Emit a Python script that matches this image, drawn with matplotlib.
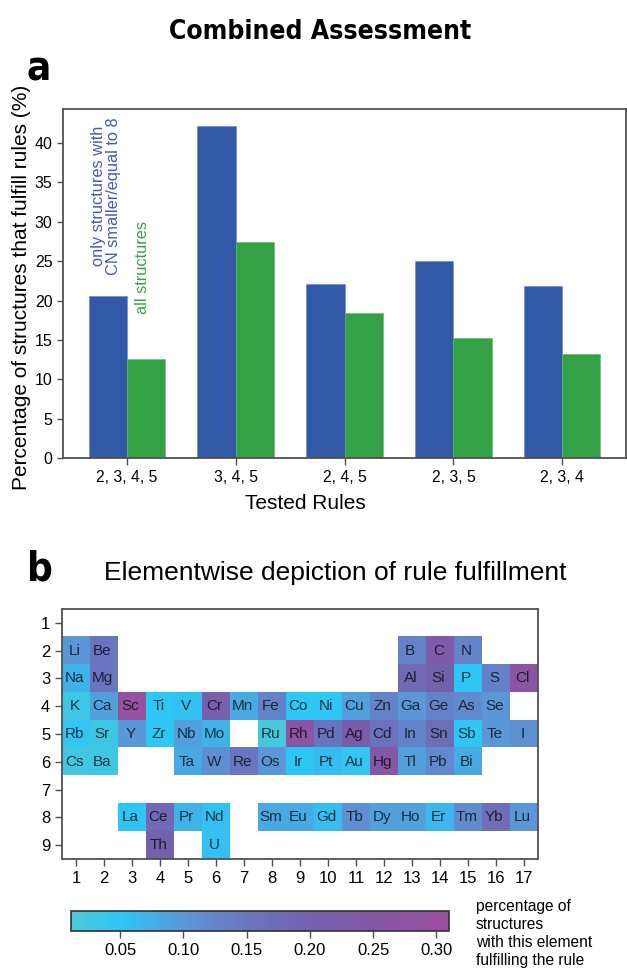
import numpy as np
import matplotlib
matplotlib.use("Agg")
import matplotlib.pyplot as plt
from matplotlib.colors import LinearSegmentedColormap, Normalize
from matplotlib import font_manager
import matplotlib.cm as cm

plt.rcParams['font.family'] = ['Liberation Sans', 'DejaVu Sans']

# ---------------- data ----------------
rule_sets = ["2, 3, 4, 5", "3, 4, 5", "2, 4, 5", "2, 3, 5", "2, 3, 4"]
cn_le_8 = [20.6, 42.2, 22.05, 25.05, 21.85]
all_structs = [12.55, 27.4, 18.45, 15.2, 13.25]

symbols = ["Li", "Be", "B", "C", "N",
           "Na", "Mg", "Al", "Si", "P", "S", "Cl",
           "K", "Ca", "Sc", "Ti", "V", "Cr", "Mn", "Fe", "Co", "Ni", "Cu", "Zn", "Ga", "Ge", "As", "Se",
           "Rb", "Sr", "Y", "Zr", "Nb", "Mo", "Ru", "Rh", "Pd", "Ag", "Cd", "In", "Sn", "Sb", "Te", "I",
           "Cs", "Ba", "Ta", "W", "Re", "Os", "Ir", "Pt", "Au", "Hg", "Tl", "Pb", "Bi",
           "La", "Ce", "Pr", "Nd", "Sm", "Eu", "Gd", "Tb", "Dy", "Ho", "Er", "Tm", "Yb", "Lu",
           "Th", "U"]
groups = [1, 2, 13, 14, 15,
          1, 2, 13, 14, 15, 16, 17,
          1, 2, 3, 4, 5, 6, 7, 8, 9, 10, 11, 12, 13, 14, 15, 16,
          1, 2, 3, 4, 5, 6, 8, 9, 10, 11, 12, 13, 14, 15, 16, 17,
          1, 2, 5, 6, 7, 8, 9, 10, 11, 12, 13, 14, 15,
          3, 4, 5, 6, 8, 9, 10, 11, 12, 13, 14, 15, 16, 17,
          4, 6]
periods = [2, 2, 2, 2, 2,
           3, 3, 3, 3, 3, 3, 3,
           4, 4, 4, 4, 4, 4, 4, 4, 4, 4, 4, 4, 4, 4, 4, 4,
           5, 5, 5, 5, 5, 5, 5, 5, 5, 5, 5, 5, 5, 5, 5, 5,
           6, 6, 6, 6, 6, 6, 6, 6, 6, 6, 6, 6, 6,
           8, 8, 8, 8, 8, 8, 8, 8, 8, 8, 8, 8, 8, 8,
           9, 9]
fractions = [0.10, 0.15, 0.13, 0.23, 0.13,
             0.07, 0.15, 0.18, 0.20, 0.05, 0.13, 0.27,
             0.03, 0.09, 0.29, 0.05, 0.055, 0.21, 0.08, 0.13, 0.05, 0.05, 0.09, 0.13, 0.10, 0.13, 0.12, 0.10,
             0.045, 0.03, 0.10, 0.05, 0.09, 0.07, 0.02, 0.27, 0.15, 0.22, 0.16, 0.13, 0.17, 0.05, 0.10, 0.11,
             0.025, 0.03, 0.08, 0.11, 0.15, 0.10, 0.05, 0.06, 0.045, 0.25, 0.09, 0.12, 0.08,
             0.05, 0.18, 0.07, 0.055, 0.08, 0.08, 0.06, 0.11, 0.09, 0.09, 0.065, 0.115, 0.17, 0.10,
             0.20, 0.055]

cbar_ticks = [0.05, 0.10, 0.15, 0.20, 0.25, 0.30]
vmin, vmax = 0.011, 0.31

# condensed bold font for headings, if one is installed
_fonts = font_manager.fontManager.ttflist
_names = {f.name for f in _fonts}
if 'Liberation Sans Narrow' in _names:
    head_kw = dict(family=['Liberation Sans Narrow', 'DejaVu Sans'])
    title_size = 22
elif any(f.name == 'DejaVu Sans' and str(f.stretch) in ('condensed', 'semi-condensed', '87.5', '75')
         for f in _fonts):
    head_kw = dict(family=['DejaVu Sans'], fontstretch='condensed')
    title_size = 19
else:
    head_kw = dict(family=['Roboto', 'Liberation Sans', 'DejaVu Sans'])
    title_size = 19

# ---------------- figure ----------------
fig = plt.figure(figsize=(6.27, 9.69), dpi=100)

blue = '#3258a8'
green = '#34a147'
spine_col = '#505050'

# Panel a
ax = fig.add_axes([0.1005, 0.5273, 0.8979, 0.3602])
x = np.arange(len(rule_sets))
w = 0.35
ax.bar(x - w / 2, cn_le_8, w, color=blue, edgecolor='#6a80cc', linewidth=0.4)
ax.bar(x + w / 2, all_structs, w, color=green, edgecolor='#5cb86a', linewidth=0.4)
ax.set_xticks(x)
ax.set_xticklabels(rule_sets, fontsize=11.3)
ax.set_yticks(np.arange(0, 45, 5))
ax.tick_params(axis='y', labelsize=11.5, length=4, width=1, color=spine_col)
ax.tick_params(axis='x', length=5, width=1, color=spine_col)
for s in ax.spines.values():
    s.set_color(spine_col)
    s.set_linewidth(1.3)
ax.set_ylabel("Percentage of structures that fulfill rules (%)", fontsize=15)
ax.set_xlabel("Tested Rules", fontsize=15)
ax.yaxis.set_label_coords(-0.056, 0.49)
ax.xaxis.set_label_coords(0.43, -0.103)

ax.text(-0.19, 33.3, "only structures with\nCN smaller/equal to 8", rotation=90,
        ha='center', va='center', multialignment='center', color='#4658b8',
        fontsize=11.8, linespacing=1.05)
ax.text(0.145, 24.2, "all structures", rotation=90, ha='center', va='center',
        color='#3aa24a', fontsize=11.8)

fig.text(0.511, 0.967, "Combined Assessment", ha='center', va='center',
         fontsize=title_size, fontweight='bold', **head_kw)
fig.text(0.043, 0.917, "a", ha='left', va='baseline', fontsize=29, fontweight='bold', **head_kw)

# Panel b
fig.text(0.043, 0.4014, "b", ha='left', va='baseline', fontsize=29, fontweight='bold', **head_kw)
fig.text(0.534, 0.4014, "Elementwise depiction of rule fulfillment", ha='center',
         va='baseline', fontsize=19)

cmap = LinearSegmentedColormap.from_list(
    "rule", [(0.0, '#4ec8d6'), (0.13, '#2ec6f5'), (0.30, '#5c96d6'), (0.46, '#6a76c0'),
             (0.63, '#7462ad'), (0.80, '#8458a5'), (1.0, '#9c4f9f')])
norm = Normalize(vmin=vmin, vmax=vmax)

axp = fig.add_axes([0.0989, 0.1135, 0.7591, 0.2580])
grid = np.full((9, 17), np.nan)
for g, p, v in zip(groups, periods, fractions):
    grid[p - 1, g - 1] = v
axp.imshow(grid, cmap=cmap, norm=norm, extent=(0.5, 17.5, 9.5, 0.5), aspect='auto',
           interpolation='nearest')
for sym, g, p in zip(symbols, groups, periods):
    axp.text(g - 0.06, p, sym, ha='center', va='center', fontsize=11, color='black', alpha=0.72)
axp.set_xlim(0.5, 17.5)
axp.set_ylim(9.5, 0.5)
axp.set_xticks(range(1, 18))
axp.set_yticks(range(1, 10))
axp.tick_params(labelsize=12, length=5, width=1, color=spine_col)
for s in axp.spines.values():
    s.set_color(spine_col)
    s.set_linewidth(1.3)

cax = fig.add_axes([0.1132, 0.0392, 0.6029, 0.0207])
cb = fig.colorbar(cm.ScalarMappable(norm=norm, cmap=cmap), cax=cax, orientation='horizontal')
cb.set_ticks(cbar_ticks)
cb.set_ticklabels(["%.2f" % t for t in cbar_ticks])
cax.tick_params(labelsize=12, length=5, width=1, color=spine_col)
cb.outline.set_linewidth(1.2)
cb.outline.set_edgecolor('#303030')

fig.text(0.759, 0.0725, "percentage of\nstructures\nwith this element\nfulfilling the rule",
         ha='left', va='top', fontsize=11.2, linespacing=1.27)

fig.savefig("out.png", dpi=100)
